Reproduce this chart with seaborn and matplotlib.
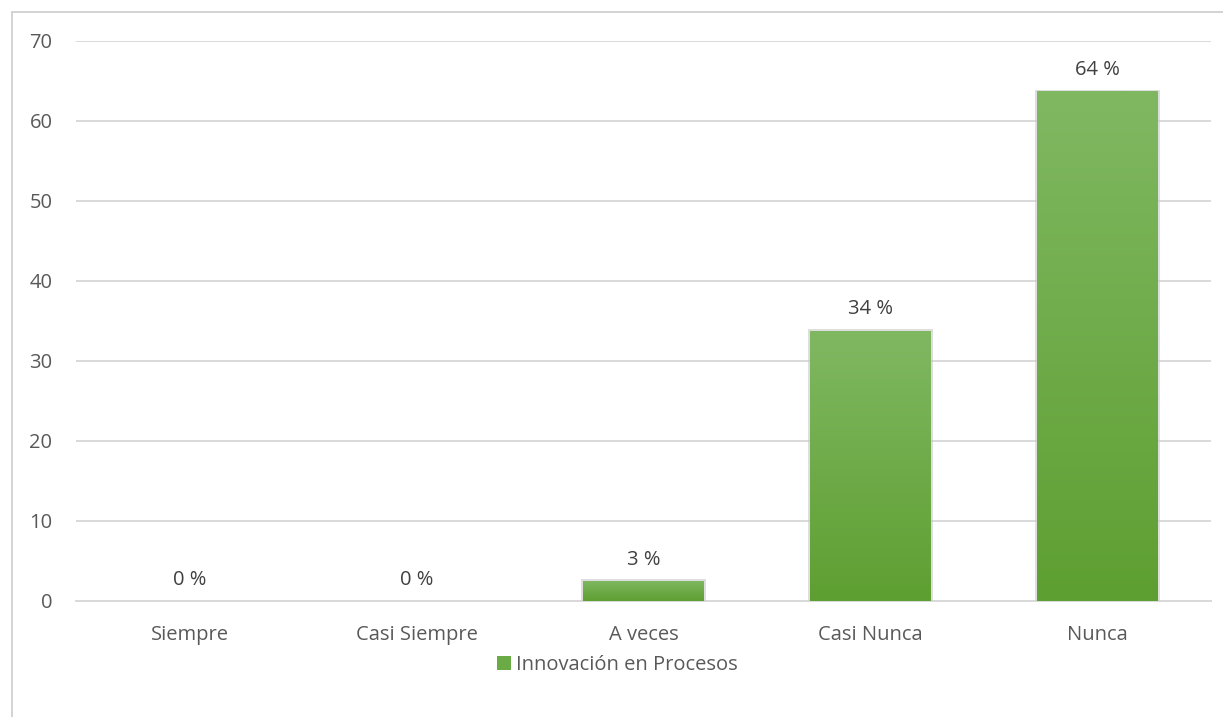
import matplotlib
matplotlib.use("Agg")
import matplotlib.pyplot as plt
import numpy as np
import pandas as pd
import seaborn as sns
from matplotlib.patches import Rectangle
from matplotlib.colors import LinearSegmentedColormap

categories = ["Siempre", "Casi Siempre", "A veces", "Casi Nunca", "Nunca"]
values = [0, 0, 2.5, 33.8, 63.7]
value_labels = ["0 %", "0 %", "3 %", "34 %", "64 %"]
series_name = "Innovación en Procesos"
yticks = [0, 10, 20, 30, 40, 50, 60, 70]

sns.set_theme(style="white")
plt.rcParams['font.family'] = ['Open Sans', 'DejaVu Sans']

df = pd.DataFrame({"cat": categories, "val": values})

fig = plt.figure(figsize=(12.23, 7.17), dpi=100)
ax = fig.add_axes([76/1223, 1-601/717, (1211-76)/1223, (601-41)/717])

top_c = "#80b862"
bot_c = "#5e9f31"
sns.barplot(data=df, x="cat", y="val", ax=ax, color=bot_c, width=0.53,
            saturation=1, zorder=3, edgecolor="none")

# gradient fill
cmap = LinearSegmentedColormap.from_list("g", [bot_c, top_c])
grad = np.linspace(0, 1, 256).reshape(-1, 1)
for p in ax.patches:
    x0, y0 = p.get_x(), p.get_y()
    w, h = p.get_width(), p.get_height()
    if h <= 0:
        continue
    # subtle shadow
    sh = Rectangle((x0 - 0.01, y0), w + 0.02, h + 0.2, facecolor="#c8c8c8",
                   edgecolor="none", alpha=0.6, zorder=3.5)
    ax.add_patch(sh)
    im = ax.imshow(grad, extent=[x0, x0 + w, y0, y0 + h], origin="lower",
                   aspect="auto", cmap=cmap, zorder=4)
    im.set_clip_path(p)

for i, (v, lab) in enumerate(zip(values, value_labels)):
    ax.annotate(lab, (i, v), xytext=(0, 8), textcoords="offset points",
                ha="center", va="bottom", fontsize=14.5, color="#404040", zorder=5)

ax.set_xlim(-0.5, len(categories) - 0.5)
ax.set_ylim(0, 70)
ax.set_yticks(yticks)
ax.set_yticklabels([str(t) for t in yticks])
ax.yaxis.grid(True, color="#d9d9d9", linewidth=1.4, zorder=0)
ax.set_axisbelow(True)
for s in ["top", "right", "left"]:
    ax.spines[s].set_visible(False)
ax.spines["bottom"].set_color("#d9d9d9")
ax.spines["bottom"].set_linewidth(1.4)
ax.tick_params(axis="y", length=0, pad=17, labelsize=14.5, labelcolor="#595959")
ax.tick_params(axis="x", length=0, pad=17, labelsize=14.5, labelcolor="#595959")
ax.set_xlabel("")
ax.set_ylabel("")

handle = Rectangle((0, 0), 1, 1, facecolor="#6aab45", edgecolor="none")
fig.legend([handle], [series_name], loc="center", bbox_to_anchor=(617/1223, 1-665/717),
           frameon=False, fontsize=14.5, labelcolor="#595959", handlelength=0.7,
           handleheight=0.7, handletextpad=0.25)

border = Rectangle((12/1223, -0.2), 1.2, 0.2 + 1 - 12/717, transform=fig.transFigure,
                   facecolor="none", edgecolor="#d0d0d0", linewidth=1.3, clip_on=False)
fig.patches.append(border)

fig.savefig("out.png", dpi=100)
